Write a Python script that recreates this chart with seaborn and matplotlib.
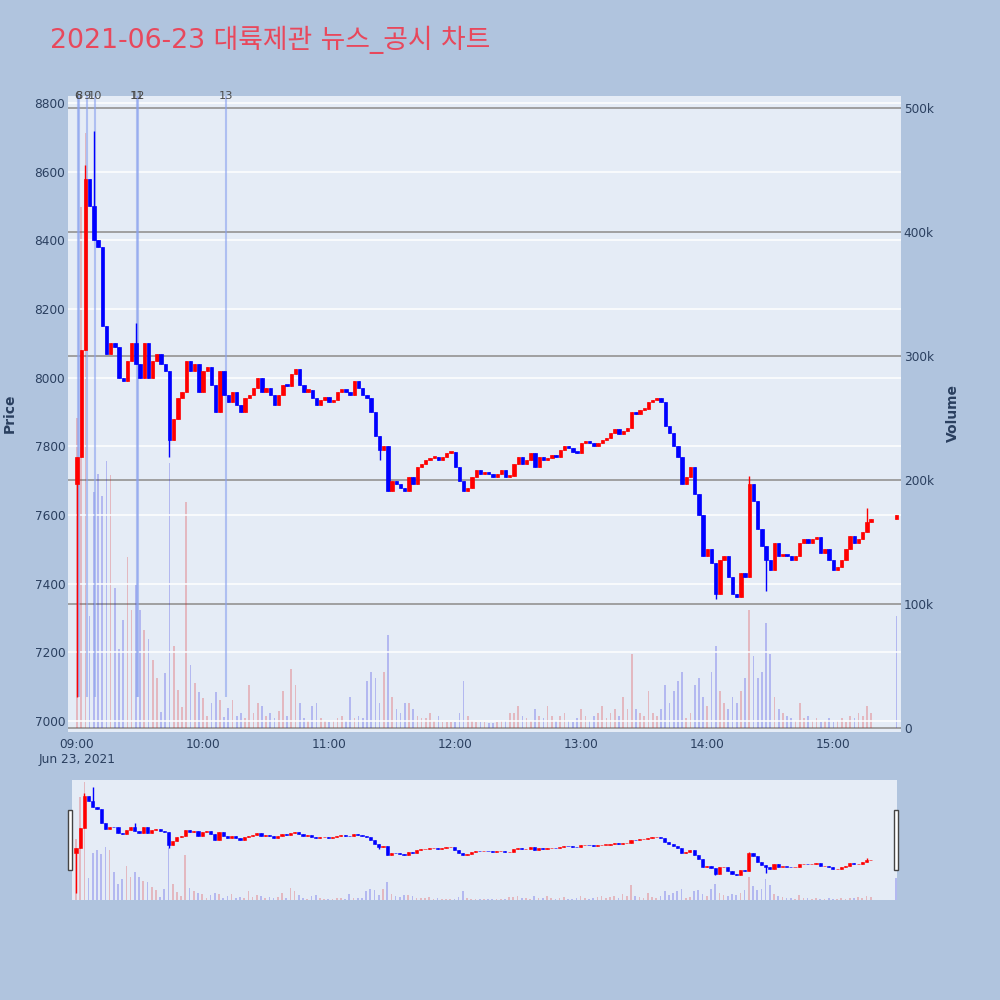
import numpy as np
import pandas as pd
import matplotlib
matplotlib.use('Agg')
import matplotlib.pyplot as plt
from matplotlib.patches import Rectangle
import seaborn as sns

# ---------- data (2-minute steps from 09:00) ----------
title = '2021-06-23 대륙제관 뉴스_공시 차트'

minutes = np.arange(0, 380, 2)          # minutes after 09:00
first_open = 7690

close_prices = [
    # 09:00 - 09:58
    7770, 8080, 8580, 8500, 8400, 8380, 8150, 8070, 8100, 8090,
    8000, 7990, 8050, 8100, 8040, 8000, 8100, 8000, 8050, 8070,
    8040, 8020, 7820, 7880, 7940, 7960, 8050, 8020, 8040, 7960,
    # 10:00 - 10:58
    8020, 8030, 7980, 7900, 8020, 7950, 7930, 7960, 7920, 7900,
    7940, 7950, 7970, 8000, 7960, 7970, 7950, 7920, 7950, 7980,
    7975, 8010, 8025, 7980, 7960, 7965, 7940, 7920, 7935, 7945,
    # 11:00 - 11:58
    7930, 7935, 7960, 7965, 7960, 7950, 7990, 7970, 7950, 7940,
    7900, 7830, 7790, 7800, 7670, 7700, 7690, 7680, 7670, 7710,
    7690, 7740, 7750, 7760, 7765, 7770, 7760, 7770, 7780, 7785,
    # 12:00 - 12:58
    7740, 7700, 7670, 7680, 7710, 7730, 7720, 7725, 7720, 7710,
    7720, 7730, 7710, 7715, 7750, 7770, 7750, 7760, 7780, 7740,
    7770, 7760, 7765, 7775, 7770, 7790, 7800, 7795, 7785, 7780,
    # 13:00 - 13:58
    7810, 7815, 7810, 7800, 7810, 7820, 7825, 7840, 7850, 7835,
    7845, 7855, 7900, 7895, 7905, 7910, 7930, 7935, 7940, 7930,
    7860, 7840, 7800, 7770, 7690, 7710, 7740, 7660, 7600, 7480,
    # 14:00 - 14:58
    7500, 7460, 7370, 7470, 7480, 7420, 7370, 7360, 7430, 7420,
    7690, 7640, 7560, 7510, 7470, 7440, 7520, 7480, 7485, 7480,
    7470, 7480, 7520, 7530, 7520, 7530, 7535, 7490, 7500, 7470,
    # 15:00 - 15:18
    7440, 7450, 7470, 7500, 7540, 7520, 7530, 7550, 7580, 7590,
]

volume_k = [
    # 09:00 - 09:58
    250, 420, 480, 90, 190, 205, 187, 215, 204, 113,
    64, 87, 138, 95, 115, 95, 79, 72, 55, 40,
    13, 44, 214, 66, 31, 17, 182, 51, 36, 29,
    # 10:00 - 10:58
    24, 10, 20, 29, 23, 9, 16, 23, 10, 12,
    8, 35, 12, 20, 18, 10, 12, 8, 14, 30,
    10, 48, 35, 20, 8, 6, 18, 20, 8, 6,
    # 11:00 - 11:58
    5, 6, 8, 10, 6, 25, 8, 10, 8, 38,
    45, 40, 20, 45, 75, 25, 15, 12, 20, 20,
    15, 10, 8, 8, 12, 6, 10, 5, 5, 5,
    # 12:00 - 12:58
    5, 12, 38, 10, 6, 5, 5, 5, 4, 4,
    5, 6, 6, 12, 12, 18, 10, 8, 6, 15,
    10, 8, 18, 10, 6, 10, 12, 6, 5, 8,
    # 13:00 - 13:58
    15, 10, 6, 10, 12, 18, 8, 12, 15, 10,
    25, 15, 60, 15, 12, 10, 30, 12, 10, 15,
    35, 20, 30, 38, 45, 8, 12, 35, 40, 25,
    # 14:00 - 14:58
    18, 45, 66, 30, 20, 15, 25, 20, 30, 40,
    95, 58, 40, 45, 85, 60, 25, 15, 12, 10,
    8, 6, 20, 8, 10, 6, 8, 5, 6, 8,
    # 15:00 - 15:18
    5, 6, 8, 5, 10, 8, 12, 10, 18, 12,
]

# closing auction at 15:30
auction_minute = 390
auction_price = 7600
auction_volume_k = 90

# long wicks visible on the chart
wick_minutes = [0, 4, 8, 28, 44, 144, 304, 320, 328, 376]
wick_prices = [7070, 8620, 8720, 8160, 7770, 7760, 7355, 7715, 7380, 7620]

# news / disclosure markers
news_labels = ['6', '8', '9', '10', '11', '12', '13']
news_minutes = [0.3, 1.0, 4.6, 8.7, 28.4, 29.0, 70.9]

x_tick_minutes = [0, 60, 120, 180, 240, 300, 360]
x_tick_labels = ['09:00\nJun 23, 2021', '10:00', '11:00', '12:00', '13:00', '14:00', '15:00']
price_ticks = [7000, 7200, 7400, 7600, 7800, 8000, 8200, 8400, 8600, 8800]
volume_ticks = [0, 100, 200, 300, 400, 500]
volume_tick_labels = ['0', '100k', '200k', '300k', '400k', '500k']

# ---------- build frames ----------
candles = pd.DataFrame({
    'minute': list(minutes) + [auction_minute],
    'close': close_prices + [auction_price],
})
candles['open'] = candles['close'].shift(1).fillna(first_open)
candles['high'] = candles[['open', 'close']].max(axis=1)
candles['low'] = candles[['open', 'close']].min(axis=1)
for m, p in zip(wick_minutes, wick_prices):
    i = candles.index[candles['minute'] == m][0]
    candles.loc[i, 'high'] = max(candles.loc[i, 'high'], p)
    candles.loc[i, 'low'] = min(candles.loc[i, 'low'], p)
candles['direction'] = np.where(candles['close'] > candles['open'], 'up', 'down')

vol_df = pd.DataFrame({
    'minute': list(minutes) + [auction_minute],
    'volume': volume_k + [auction_volume_k],
    'direction': list(candles['direction'][:-1]) + ['down'],
})

# ---------- style ----------
sns.set_theme(style='white')
plt.rcParams['font.family'] = ['DejaVu Sans', 'Noto Sans CJK KR']
TEXT = '#2a3f5f'
BG = '#e5ecf6'
PAPER = '#b0c4de'
UP, DOWN = '#ff0000', '#0000ff'
palette = {'up': UP, 'down': DOWN}


def draw_chart(ax_v, ax_p, body_w=1.6, body_lw=0.5):
    sns.barplot(data=vol_df, x='minute', y='volume', hue='direction', palette=palette,
                native_scale=True, dodge=False, width=0.4, alpha=0.25, linewidth=0,
                errorbar=None, legend=False, ax=ax_v)
    cols = candles['direction'].map(palette)
    bottoms = candles[['open', 'close']].min(axis=1)
    heights = (candles['close'] - candles['open']).abs().clip(lower=6)
    ax_p.vlines(candles['minute'], candles['low'], candles['high'], colors=cols, lw=1.0, zorder=3)
    ax_p.bar(candles['minute'], heights, bottom=bottoms, width=body_w, color=cols,
             edgecolor=cols, linewidth=body_lw, zorder=4)
    for a in (ax_v, ax_p):
        a.set_xlabel('')
        a.set_ylabel('')
        for s in a.spines.values():
            s.set_visible(False)


fig = plt.figure(figsize=(10, 10), dpi=100, facecolor=PAPER)

# ---------- main chart ----------
ax_vol = fig.add_axes([0.068, 0.268, 0.833, 0.636], facecolor=BG)
ax = ax_vol.twinx()
draw_chart(ax_vol, ax)

ax_vol.set_xlim(-4.3, 392.2)
ax_vol.set_ylim(-3.2, 509.7)
ax.set_ylim(6968, 8821)

ax_vol.yaxis.tick_right()
ax.yaxis.tick_left()
ax_vol.set_yticks(volume_ticks)
ax_vol.set_yticklabels(volume_tick_labels)
ax.set_yticks(price_ticks)
ax.set_yticklabels([str(p) for p in price_ticks])
ax_vol.set_xticks(x_tick_minutes)
ax_vol.set_xticklabels(x_tick_labels, linespacing=1.25)

ax_vol.grid(axis='y', color='#9a9a9a', lw=1.3)
ax_vol.grid(axis='x', visible=False)
ax.grid(axis='y', color='white', lw=1.1)
ax.grid(axis='x', visible=False)
ax_vol.set_axisbelow(True)

for a in (ax_vol, ax):
    a.tick_params(length=0, labelsize=8.7, labelcolor=TEXT, pad=2)
ax_vol.tick_params(axis='x', pad=4)

# news markers
ax.vlines(news_minutes, 7070, 8821, colors='#8aa2ee', alpha=0.6, lw=1.5, zorder=2)
for lab, m in zip(news_labels, news_minutes):
    ax.text(m, 1.0, lab, transform=ax.get_xaxis_transform(), ha='center', va='center',
            fontsize=8.2, color='#4a4a4a', clip_on=False)

fig.text(0.010, 0.587, 'Price', rotation=90, ha='center', va='center',
         fontsize=10, fontweight='bold', color=TEXT)
fig.text(0.953, 0.587, 'Volume', rotation=90, ha='center', va='center',
         fontsize=10, fontweight='bold', color=TEXT)
fig.text(0.05, 0.96, title, ha='left', va='center', fontsize=19.3, color='#e8485c',
         family=['DejaVu Sans', 'Noto Sans CJK KR'])

# ---------- range slider ----------
ax_rs_vol = fig.add_axes([0.072, 0.1, 0.825, 0.12], facecolor=BG)
ax_rs = ax_rs_vol.twinx()
draw_chart(ax_rs_vol, ax_rs, body_w=1.5, body_lw=0.4)
ax_rs_vol.set_xlim(-1.9, 390.5)
ax_rs_vol.set_ylim(0, 490)
ax_rs.set_ylim(6968, 8821)
for a in (ax_rs_vol, ax_rs):
    a.set_xticks([])
    a.set_yticks([])
    a.grid(False)

for hx in (0.068, 0.894):
    fig.add_artist(Rectangle((hx, 0.13), 0.004, 0.06, transform=fig.transFigure,
                             facecolor='white', edgecolor='#444444', lw=1))

fig.savefig('out.png', dpi=100, facecolor=PAPER)
